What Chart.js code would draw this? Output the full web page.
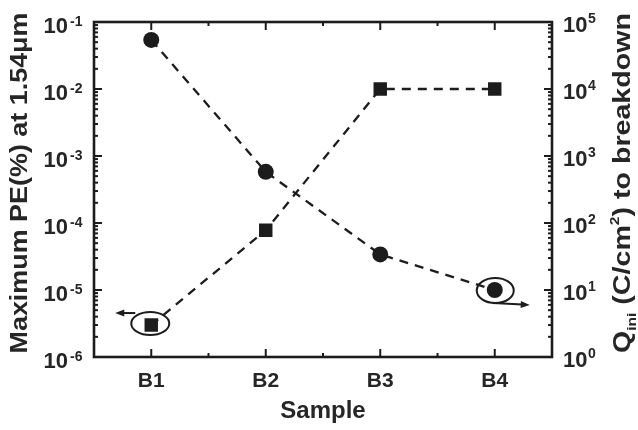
<!DOCTYPE html>
<html>
<head>
<meta charset="utf-8">
<script src="https://cdn.jsdelivr.net/npm/chart.js@4/dist/chart.umd.min.js"></script>
<style>
  html, body { margin: 0; padding: 0; background: #fff; }
</style>
</head>
<body>
<canvas id="myChart" width="638" height="430"></canvas>
<script>
// data
let samples = ['B1', 'B2', 'B3', 'B4']
let peValues = [0.054, 5.8e-4, 3.4e-5, 1.0e-5]     // left axis, circles
let qValues = [3.0, 78, 1.0e4, 1.0e4]              // right axis, squares
let peExps = [-6, -5, -4, -3, -2, -1]              // left tick labels 10^n
let qExps = [0, 1, 2, 3, 4, 5]                     // right tick labels 10^n

const ink = '#1c1c1c'
const font = '"Liberation Sans", Arial, sans-serif'

function line(ctx, x1, y1, x2, y2) {
    ctx.beginPath()
    ctx.moveTo(x1, y1)
    ctx.lineTo(x2, y2)
    ctx.stroke()
}

function arrowHead(ctx, x1, y1, x2, y2) {
    // filled head pointing at x2,y2
    const ang = Math.atan2(y2 - y1, x2 - x1)
    const len = 9, half = 3.5
    ctx.beginPath()
    ctx.moveTo(x2, y2)
    ctx.lineTo(x2 - len * Math.cos(ang) + half * Math.sin(ang), y2 - len * Math.sin(ang) - half * Math.cos(ang))
    ctx.lineTo(x2 - len * Math.cos(ang) - half * Math.sin(ang), y2 - len * Math.sin(ang) + half * Math.cos(ang))
    ctx.closePath()
    ctx.fill()
}

function logTicks(ctx, scale, exps, xEdge, dir) {
    for (let k = 0; k < exps.length; k++) {
        const e = exps[k]
        const py = scale.getPixelForValue(Math.pow(10, e))
        line(ctx, xEdge, py, xEdge + dir * 8, py)
        if (k < exps.length - 1) {
            for (let m = 2; m < 10; m++) {
                const my = scale.getPixelForValue(m * Math.pow(10, e))
                line(ctx, xEdge, my, xEdge + dir * 4, my)
            }
        }
    }
}

// title drawn in a rotated frame, made of runs [text, size, shift]
function drawRotTitle(ctx, runs, cx, cy, target) {
    ctx.save()
    ctx.translate(cx, cy)
    ctx.rotate(-Math.PI / 2)
    let total = 0
    for (const r of runs) {
        ctx.font = 'bold ' + r[1] + 'px ' + font
        total += ctx.measureText(r[0]).width
    }
    const sx = target / total
    ctx.scale(sx, 1)
    let x = -total / 2
    ctx.textAlign = 'left'
    ctx.textBaseline = 'alphabetic'
    for (const r of runs) {
        ctx.font = 'bold ' + r[1] + 'px ' + font
        ctx.fillText(r[0], x, r[2])
        x += ctx.measureText(r[0]).width
    }
    ctx.restore()
}

const framePlugin = {
    id: 'framePlugin',
    afterDraw(chart) {
        const ctx = chart.ctx
        const a = chart.chartArea
        const xs = chart.scales.x, ys = chart.scales.y, ys2 = chart.scales.y2
        ctx.save()
        ctx.strokeStyle = ink
        ctx.fillStyle = ink
        ctx.lineCap = 'butt'

        // ticks
        ctx.lineWidth = 2
        samples.forEach((s, i) => {
            const px = xs.getPixelForValue(i)
            line(ctx, px, a.bottom, px, a.bottom - 8)
            line(ctx, px, a.top, px, a.top + 8)
            if (i < samples.length - 1) {
                const mid = (px + xs.getPixelForValue(i + 1)) / 2
                line(ctx, mid, a.bottom, mid, a.bottom - 4)
                line(ctx, mid, a.top, mid, a.top + 4)
            }
        })
        logTicks(ctx, ys, peExps, a.left, 1)
        logTicks(ctx, ys2, qExps, a.right, -1)

        // frame
        ctx.lineWidth = 2.6
        ctx.strokeRect(a.left, a.top, a.right - a.left, a.bottom - a.top)

        // category labels
        ctx.fillStyle = '#262626'
        ctx.textAlign = 'center'
        ctx.textBaseline = 'alphabetic'
        ctx.font = 'bold 21px ' + font
        samples.forEach((s, i) => {
            ctx.fillText(s, xs.getPixelForValue(i), a.bottom + 30)
        })
        ctx.font = 'bold 24px ' + font
        ctx.fillText('Sample', (a.left + a.right) / 2, a.bottom + 61)

        // left tick labels
        peExps.forEach(e => {
            const py = ys.getPixelForValue(Math.pow(10, e))
            ctx.font = 'bold 22px ' + font
            ctx.textAlign = 'right'
            ctx.fillText('10', a.left - 26, py + 11)
            ctx.font = 'bold 14px ' + font
            ctx.textAlign = 'left'
            ctx.fillText(String(e), a.left - 24, py + 4)
        })
        // right tick labels
        qExps.forEach(e => {
            const py = ys2.getPixelForValue(Math.pow(10, e))
            ctx.font = 'bold 22px ' + font
            ctx.textAlign = 'left'
            ctx.fillText('10', a.right + 11, py + 10)
            ctx.font = 'bold 14px ' + font
            ctx.fillText(String(e), a.right + 36, py + 1)
        })

        // axis titles
        drawRotTitle(ctx, [['Maximum PE(%) at 1.54\u03bcm', 24, 0]], 27, 183, 341)
        drawRotTitle(ctx, [
            ['Q', 24, 0], ['ini', 13, 6], [' (C/cm', 24, 0], ['2', 13, -11], [') to breakdown', 24, 0]
        ], 630, 183, 340)

        // ellipse + arrow marks: square B1 -> left axis, circle B4 -> right axis
        ctx.strokeStyle = ink
        ctx.fillStyle = ink
        ctx.lineWidth = 2
        const sqX = xs.getPixelForValue(0), sqY = ys2.getPixelForValue(qValues[0])
        ctx.beginPath()
        ctx.ellipse(sqX - 1, sqY - 1.5, 19, 11.5, 0, 0, Math.PI * 2)
        ctx.stroke()
        line(ctx, sqX - 16, sqY - 12, sqX - 29, sqY - 12)
        arrowHead(ctx, sqX - 16, sqY - 12, sqX - 36, sqY - 12)

        const ciX = xs.getPixelForValue(3), ciY = ys.getPixelForValue(peValues[3])
        ctx.beginPath()
        ctx.ellipse(ciX + 0.5, ciY + 0.5, 18.5, 12.5, 0, 0, Math.PI * 2)
        ctx.stroke()
        line(ctx, ciX - 2, ciY + 13, ciX + 28, ciY + 14.5)
        arrowHead(ctx, ciX - 2, ciY + 13, ciX + 35, ciY + 15)

        ctx.restore()
    }
}

const myChart = document.getElementById('myChart')

const peChart = new Chart(myChart, {
    type: 'line',
    data: {
        labels: [...samples],
        datasets: [{
            label: 'Maximum PE',
            data: [...peValues],
            yAxisID: 'y',
            borderColor: ink,
            borderWidth: 2.3,
            borderDash: [9, 7],
            pointStyle: 'circle',
            pointRadius: 8,
            pointBackgroundColor: ink,
            pointBorderWidth: 0,
            tension: 0
        }, {
            label: 'Q to breakdown',
            data: [...qValues],
            yAxisID: 'y2',
            borderColor: ink,
            borderWidth: 2.3,
            borderDash: [9, 7],
            pointStyle: 'rect',
            pointRadius: 9.5,
            pointBackgroundColor: ink,
            pointBorderWidth: 0,
            tension: 0
        }]
    },
    options: {
        responsive: false,
        animation: false,
        devicePixelRatio: 1,
        layout: { padding: { left: 94, right: 86, top: 22, bottom: 73 } },
        plugins: {
            legend: { display: false },
            tooltip: { enabled: false }
        },
        scales: {
            x: { type: 'category', offset: true, display: false },
            y: { type: 'logarithmic', position: 'left', min: 1e-6, max: 1e-1, display: false },
            y2: { type: 'logarithmic', position: 'right', min: 1, max: 1e5, display: false }
        }
    },
    plugins: [framePlugin]
})
</script>
</body>
</html>
